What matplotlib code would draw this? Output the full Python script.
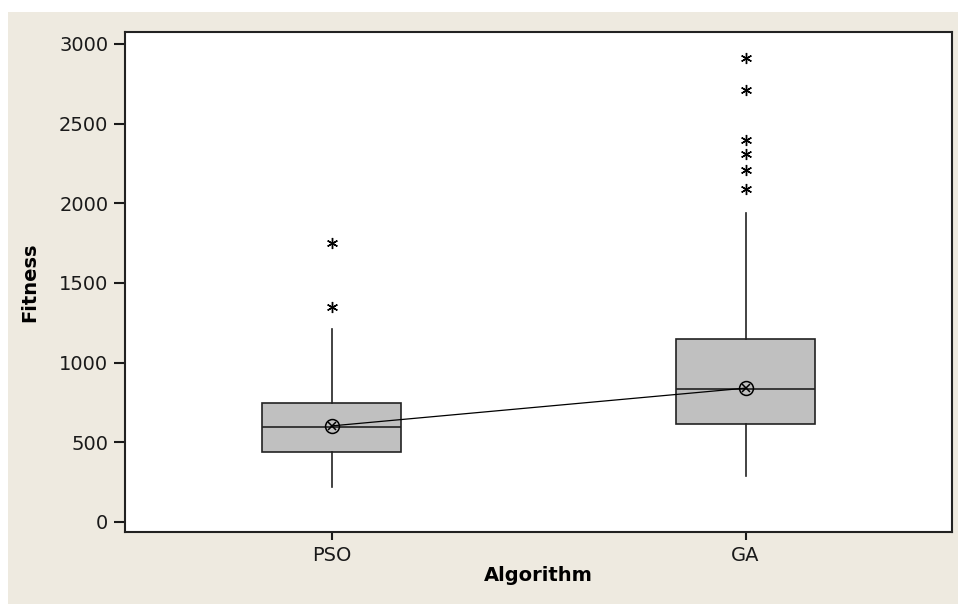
import matplotlib.pyplot as plt
from matplotlib.patches import Rectangle

# values
algorithms = ['PSO', 'GA']
q1 = [441, 613]
medians = [598, 837]
q3 = [749, 1147]
whisker_low = [222, 291]
whisker_high = [1211, 1940]
means = [603, 840]
outliers_pso = [1351, 1753]
outliers_ga = [2089, 2210, 2310, 2398, 2712, 2911]

yticks = [0, 500, 1000, 1500, 2000, 2500, 3000]

fig = plt.figure(figsize=(9.64, 6.04), dpi=100, facecolor='white')
# beige panel behind the plot (Minitab style)
fig.patches.append(Rectangle((8 / 964, 0), 950 / 964, 592 / 604,
                             transform=fig.transFigure, facecolor='#EEEAE0',
                             edgecolor='none', zorder=-10))

ax = fig.add_axes([125 / 964, 1 - 532 / 604, 827.5 / 964, 500 / 604])
ax.set_facecolor('white')

stats = []
for i, name in enumerate(algorithms):
    stats.append({
        'label': name,
        'q1': q1[i], 'med': medians[i], 'q3': q3[i],
        'whislo': whisker_low[i], 'whishi': whisker_high[i],
        'fliers': [outliers_pso, outliers_ga][i],
        'mean': means[i],
    })

pos = [1, 2]
ax.bxp(stats, positions=pos, widths=0.336, patch_artist=True,
       showcaps=False, showmeans=False,
       boxprops=dict(facecolor='#C0C0C0', edgecolor='#222222', linewidth=1.2),
       medianprops=dict(color='#222222', linewidth=1.2),
       whiskerprops=dict(color='#222222', linewidth=1.2),
       flierprops=dict(marker=(6, 2, 0), markersize=8, markeredgecolor='black',
                       markeredgewidth=1.0, linestyle='none'))

# connect the means and draw the circled-cross mean symbol
ax.plot(pos, means, color='black', linewidth=0.9, zorder=4)
ax.plot(pos, means, linestyle='none', marker='o', markersize=10,
        markerfacecolor='none', markeredgecolor='black', markeredgewidth=1.1, zorder=5)
ax.plot(pos, means, linestyle='none', marker='x', markersize=6,
        markeredgecolor='black', markeredgewidth=1.1, zorder=5)

ax.set_xlim(0.5, 2.5)
ax.set_ylim(-63, 3075)
ax.set_xticks(pos)
ax.set_xticklabels(algorithms)
ax.set_yticks(yticks)

ax.tick_params(axis='y', length=8, width=1.5, labelsize=14, pad=4, colors='#1a1a1a')
ax.tick_params(axis='x', length=6, width=1.5, labelsize=14, pad=4, colors='#1a1a1a')
for side in ax.spines.values():
    side.set_linewidth(1.5)
    side.set_color('#222222')

ax.set_ylabel('Fitness', fontsize=14, fontweight='bold', labelpad=14)
ax.set_xlabel('Algorithm', fontsize=14, fontweight='bold', labelpad=1)

fig.savefig('out.png', dpi=100, facecolor=fig.get_facecolor())
